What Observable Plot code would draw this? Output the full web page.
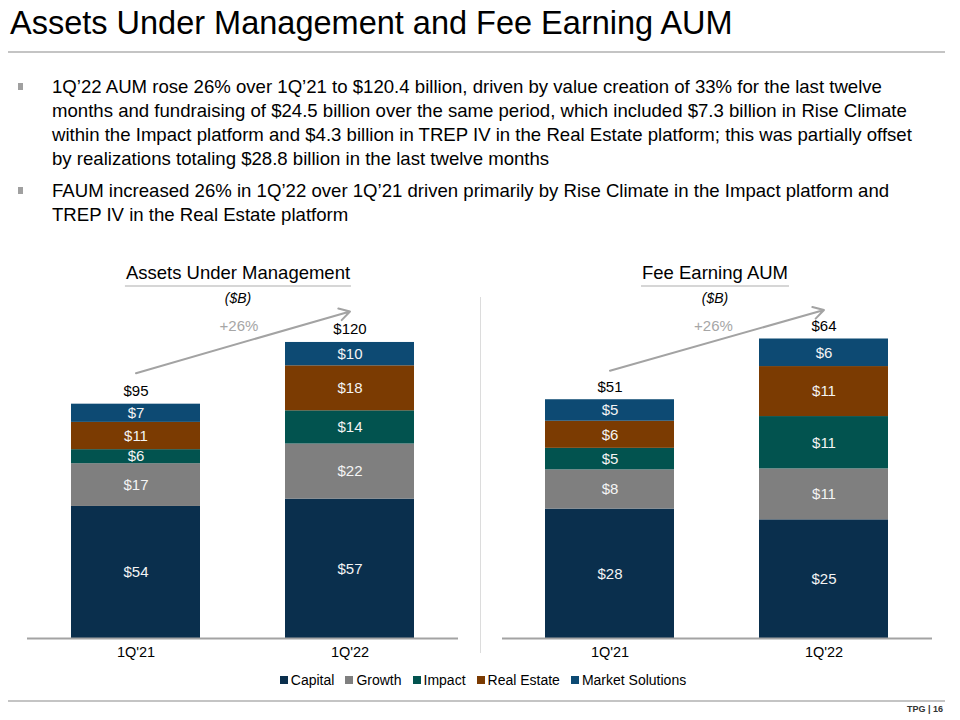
<!DOCTYPE html>
<html>
<head>
<meta charset="utf-8">
<script src="https://cdn.jsdelivr.net/npm/d3@7"></script>
<script src="https://cdn.jsdelivr.net/npm/@observablehq/plot@0.6"></script>
<style>
  html, body { margin: 0; padding: 0; background: #fff; }
  body { width: 960px; height: 720px; position: relative; overflow: hidden;
         font-family: "Liberation Sans", Arial, Helvetica, sans-serif; color: #000; }
  .abs { position: absolute; }
  #title { left: 10px; top: 5px; font-size: 32.5px; white-space: nowrap; }
  .hr { position: absolute; left: 8px; width: 937px; height: 2px; background: #c4c4c4; }
  .bul { position: absolute; left: 52px; font-size: 18.6px; line-height: 24px; white-space: nowrap; }
  .sq { position: absolute; left: 18px; width: 5px; height: 7px; background: #a0a0a0; }
  .hdr { position: absolute; transform: translateX(-50%); font-size: 18.5px; white-space: nowrap;
         border-bottom: 2px solid #d6d6d6; padding: 0 1px 1px 1px; line-height: 22px; }
  .unit { position: absolute; transform: translateX(-50%); font-size: 14px; font-style: italic; white-space: nowrap; }
  #legend { position: absolute; top: 672px; left: 0; width: 966px; display: flex; justify-content: center;
            font-size: 14px; gap: 11px; }
  #legend .it { display: flex; align-items: center; gap: 3px; }
  #legend .sw { width: 8px; height: 8px; display: inline-block; }
  #footer { position: absolute; right: 17px; top: 704px; font-size: 9px; color: #333; font-weight: bold; }
  #divider { position: absolute; left: 480px; top: 297px; width: 1px; height: 356px; background: #dcdcdc; }
</style>
</head>
<body>
<div id="title" class="abs">Assets Under Management and Fee Earning AUM</div>
<div class="hr" style="top:51px"></div>

<div class="sq" style="top:83px"></div>
<div class="bul" style="top:75px">1Q’22 AUM rose 26% over 1Q’21 to $120.4 billion, driven by value creation of 33% for the last twelve<br>months and fundraising of $24.5 billion over the same period, which included $7.3 billion in Rise Climate<br>within the Impact platform and $4.3 billion in TREP IV in the Real Estate platform; this was partially offset<br>by realizations totaling $28.8 billion in the last twelve months</div>
<div class="sq" style="top:187px"></div>
<div class="bul" style="top:179px">FAUM increased 26% in 1Q’22 over 1Q’21 driven primarily by Rise Climate in the Impact platform and<br>TREP IV in the Real Estate platform</div>

<div class="hdr" style="left:238px; top:262px">Assets Under Management</div>
<div class="unit" style="left:238px; top:290px">($B)</div>
<div class="hdr" style="left:715px; top:262px">Fee Earning AUM</div>
<div class="unit" style="left:715px; top:290px">($B)</div>

<div id="divider"></div>
<div id="left" class="abs" style="left:0px; top:290px"></div>
<div id="right" class="abs" style="left:480px; top:290px"></div>

<div id="legend"></div>
<div class="hr" style="top:700px"></div>
<div id="footer">TPG | 16</div>

<script>
// ---- data ----
const quarters = ["1Q'21", "1Q'22"];
const segments = ["Capital", "Growth", "Impact", "Real Estate", "Market Solutions"];
const segmentColors = ["#0a2f4d", "#7f7f7f", "#02534f", "#7b3b02", "#0d4a73"];
// Assets Under Management ($B), by segment, bottom to top
const aum1Q21 = [53.7, 17.4, 5.7, 11.1, 7.4];
const aum1Q22 = [56.7, 22.4, 13.5, 18.3, 9.5];
// Fee Earning AUM ($B)
const faum1Q21 = [27.7, 8.4, 4.6, 5.8, 4.6];
const faum1Q22 = [25.4, 10.9, 11.2, 10.7, 5.9];
const aumGrowth = "+26%";
const faumGrowth = "+26%";

const fmt = v => "$" + Math.round(v);

function buildRows(a, b) {
  const rows = [];
  segments.forEach((s, i) => {
    rows.push({quarter: quarters[0], segment: s, value: a[i]});
    rows.push({quarter: quarters[1], segment: s, value: b[i]});
  });
  return rows;
}

function chart(a, b, yMax, growth, opts) {
  const rows = buildRows(a, b);
  const totals = quarters.map((q, i) => ({quarter: q, total: d3.sum(i === 0 ? a : b)}));
  const arrowRow = [{q1: quarters[0], t1: totals[0].total, q2: quarters[1], t2: totals[1].total}];
  return Plot.plot({
    width: 480,
    height: 375,
    marginTop: 20,
    marginBottom: 27,
    marginLeft: opts.ml,
    marginRight: opts.mr,
    style: {fontFamily: "'Liberation Sans', Arial, sans-serif", fontSize: "14.5px", color: "#000", overflow: "visible", background: "transparent"},
    x: {domain: quarters, paddingInner: 0.395, paddingOuter: 0.2, label: null, tickSize: 0, tickPadding: 8},
    y: {domain: [0, yMax], axis: null},
    color: {domain: segments, range: segmentColors},
    marks: [
      Plot.barY(rows, {x: "quarter", y: "value", fill: "segment", order: segments, inset: 0}),
      Plot.text(rows, Plot.stackY({x: "quarter", y: "value", z: "segment", order: segments, text: d => fmt(d.value), fill: "#f4f4f4", fontSize: 15})),
      Plot.text(totals, {x: "quarter", y: "total", text: d => fmt(d.total), dy: -13, fill: "#000", fontSize: 15}),
      Plot.arrow(arrowRow, {x1: "q1", y1: "t1", x2: "q2", y2: "t2", dy: opts.ady, stroke: "#a3a3a3", strokeWidth: 2, headLength: 9}),
      Plot.text([growth], {frameAnchor: "top", lineAnchor: "middle", dy: 16, dx: -4, text: d => d, fill: "#a6a6a6", fontSize: 15}),
      Plot.ruleY([0], {stroke: "#a3a3a3", strokeWidth: 2})
    ]
  });
}

document.getElementById("left").appendChild(chart(aum1Q21, aum1Q22, 133.4, aumGrowth, {ml: 27, mr: 22, ady: -31}));
document.getElementById("right").appendChild(chart(faum1Q21, faum1Q22, 70.2, faumGrowth, {ml: 22, mr: 28, ady: -29}));

const legend = document.getElementById("legend");
segments.forEach((s, i) => {
  const it = document.createElement("div");
  it.className = "it";
  const sw = document.createElement("span");
  sw.className = "sw";
  sw.style.background = segmentColors[i];
  const tx = document.createElement("span");
  tx.textContent = s;
  it.appendChild(sw); it.appendChild(tx);
  legend.appendChild(it);
});
</script>
</body>
</html>
